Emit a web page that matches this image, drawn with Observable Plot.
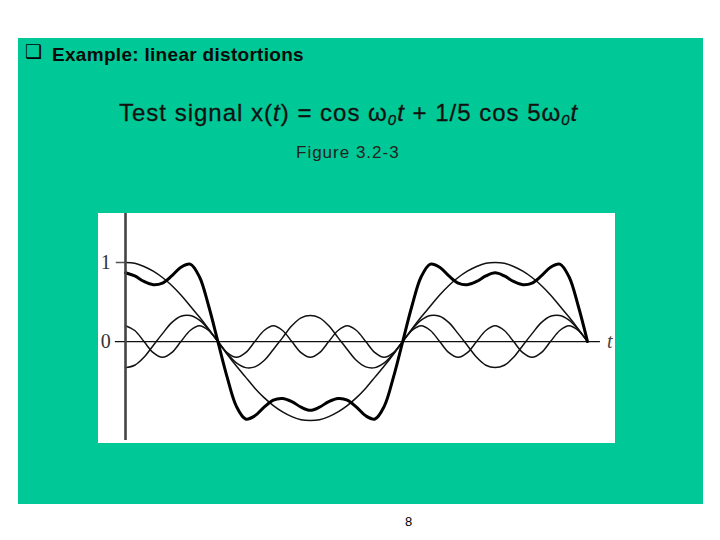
<!DOCTYPE html>
<html><head><meta charset="utf-8">
<script src="https://cdn.jsdelivr.net/npm/d3@7"></script>
<script src="https://cdn.jsdelivr.net/npm/@observablehq/plot@0.6"></script>
<style>
html,body{margin:0;padding:0;background:#fff;}
#page{position:relative;width:720px;height:540px;overflow:hidden;background:#fff;font-family:"Liberation Sans",Arial,sans-serif;}
#green{position:absolute;left:18px;top:38px;width:685px;height:466px;background:#00C896;}
.txt{position:absolute;white-space:nowrap;line-height:1;color:#000;}
#bullet{left:25px;top:42px;font-family:"DejaVu Sans",sans-serif;font-size:19px;font-weight:bold;}
#title{left:52px;top:44.9px;font-size:19px;font-weight:bold;letter-spacing:0.3px;color:#0a0a0a;}
#subtitle{left:119px;top:101.4px;font-size:24px;letter-spacing:1px;color:#111;-webkit-text-stroke:0.3px #111;}
#subtitle sub{font-size:0.62em;vertical-align:-0.28em;line-height:0;font-style:italic;}
#fig{left:296px;top:143.5px;font-size:17px;letter-spacing:1px;color:#222;}
#pg{left:405px;top:515px;font-size:13px;color:#000;}
#chart{position:absolute;left:98px;top:213px;width:517px;height:230px;background:#fff;}
</style></head>
<body>
<div id="page">
  <div id="green"></div>
  <div class="txt" id="bullet">❑</div>
  <div class="txt" id="title">Example: linear distortions</div>
  <div class="txt" id="subtitle">Test signal x(<i>t</i>) = cos ω<sub>0</sub><i>t</i> + 1/5 cos 5ω<sub>0</sub><i>t</i></div>
  <div class="txt" id="fig">Figure 3.2-3</div>
  <div id="chart"></div>
  <div class="txt" id="pg">8</div>
</div>
<script>
// samples every π/20 of ω0t, from 0 to 5π/2 (51 points)
const cosW = [1.00,0.99,0.95,0.89,0.81,0.71,0.59,0.45,0.31,0.16,0.00,
  -0.16,-0.31,-0.45,-0.59,-0.71,-0.81,-0.89,-0.95,-0.99,-1.00,
  -0.99,-0.95,-0.89,-0.81,-0.71,-0.59,-0.45,-0.31,-0.16,0.00,
  0.16,0.31,0.45,0.59,0.71,0.81,0.89,0.95,0.99,1.00,
  0.99,0.95,0.89,0.81,0.71,0.59,0.45,0.31,0.16,0.00];
const third = [-0.33,-0.30,-0.20,-0.05,0.10,0.24,0.32,0.33,0.27,0.15,0.00,
  -0.15,-0.27,-0.33,-0.32,-0.24,-0.10,0.05,0.20,0.30,0.33,
  0.30,0.20,0.05,-0.10,-0.24,-0.32,-0.33,-0.27,-0.15,0.00,
  0.15,0.27,0.33,0.32,0.24,0.10,-0.05,-0.20,-0.30,-0.33,
  -0.30,-0.20,-0.05,0.10,0.24,0.32,0.33,0.27,0.15,0.00];
const fifth = [0.20,0.14,0.00,-0.14,-0.20,-0.14,0.00,0.14,
  0.20,0.14,0.00,-0.14,-0.20,-0.14,0.00,0.14,
  0.20,0.14,0.00,-0.14,-0.20,-0.14,0.00,0.14,
  0.20,0.14,0.00,-0.14,-0.20,-0.14,0.00,0.14,
  0.20,0.14,0.00,-0.14,-0.20,-0.14,0.00,0.14,
  0.20,0.14,0.00,-0.14,-0.20,-0.14,0.00,0.14,
  0.20,0.14,0.00];
const total = [0.87,0.83,0.76,0.72,0.74,0.83,0.94,0.98,0.82,0.45,0.00,
  -0.45,-0.82,-0.98,-0.94,-0.83,-0.74,-0.72,-0.76,-0.83,-0.87,
  -0.83,-0.76,-0.72,-0.74,-0.83,-0.94,-0.98,-0.82,-0.45,0.00,
  0.45,0.82,0.98,0.94,0.83,0.74,0.72,0.76,0.83,0.87,
  0.83,0.76,0.72,0.74,0.83,0.94,0.98,0.82,0.45,0.00];
const yTicks = [0, 1];
const yTickLabels = ["0", "1"];
const xLabel = ["t"];

const rows = vals => vals.map((v, i) => ({t: i, v}));
const thin = {x: "t", y: "v", curve: "catmull-rom", stroke: "#111", strokeWidth: 1.5};

const chart = Plot.plot({
  width: 517, height: 230, margin: 0,
  style: {background: "#fff", overflow: "visible"},
  x: {domain: [0, 50], range: [27, 489], axis: null},
  y: {domain: [-1.29, 1.62], range: [230, 0], axis: null},
  marks: [
    Plot.ruleY([0], {x1: -1.1, x2: 51.4, stroke: "#111", strokeWidth: 1.3}),
    Plot.ruleY([1], {x1: -1.0, x2: 0, stroke: "#555", strokeWidth: 1.5}),
    Plot.line(rows(cosW), thin),
    Plot.line(rows(third), thin),
    Plot.line(rows(fifth), thin),
    Plot.line(rows(total), {x: "t", y: "v", curve: "catmull-rom", stroke: "#000", strokeWidth: 3}),
    Plot.ruleX([0], {y1: 1.62, y2: -1.252, stroke: "#444", strokeWidth: 2.6}),
    Plot.text(yTicks, {x: -2.15, y: d => d, text: (d, i) => yTickLabels[i], fontFamily: "Liberation Serif", fontSize: 20, fill: "#333"}),
    Plot.text(xLabel, {x: 52.4, y: 0, text: d => d, fontFamily: "Liberation Serif", fontStyle: "italic", fontSize: 20, fill: "#444"})
  ]
});
document.getElementById("chart").appendChild(chart);
</script>
</body></html>
